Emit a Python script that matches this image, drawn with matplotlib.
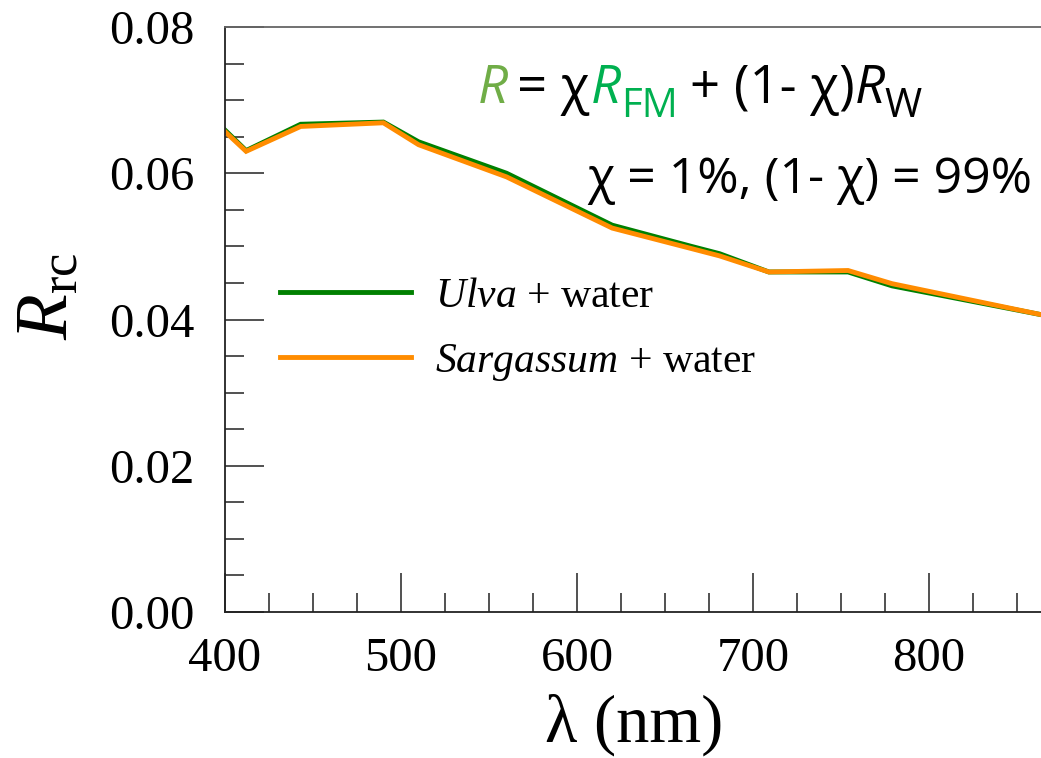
import numpy as np
import matplotlib
matplotlib.use("Agg")
import matplotlib.pyplot as plt
from matplotlib.ticker import MultipleLocator

# Spectra of floating macroalgae mixed with water (chi = 1%)
wavelength = [400, 412, 443, 490, 510, 560, 620, 665, 681, 709, 754, 779, 865]
ulva_water = [0.0659, 0.0631, 0.0667, 0.0670, 0.0643, 0.0600, 0.0529,
              0.0500, 0.0490, 0.0465, 0.0465, 0.0446, 0.0406]
sargassum_water = [0.0657, 0.0630, 0.0664, 0.0669, 0.0639, 0.0595, 0.0525,
                   0.0497, 0.0487, 0.0465, 0.0467, 0.0449, 0.0406]

series_labels = [r"$\mathit{Ulva}$ + water", r"$\mathit{Sargassum}$ + water"]
series_colors = ["#008000", "#ff8c00"]

plt.rcParams["font.family"] = ["Liberation Serif", "DejaVu Serif"]
plt.rcParams["mathtext.fontset"] = "custom"
plt.rcParams["mathtext.rm"] = "Liberation Serif"
plt.rcParams["mathtext.it"] = "Liberation Serif:italic"

W, H = 1041, 758
fig = plt.figure(figsize=(W / 100, H / 100), dpi=100)
x_min, x_max = 400, 865
ax = fig.add_axes([225 / W, (H - 612) / H, (x_max - x_min) * 1.76 / W, 585 / H])

for y, lab, col in zip([ulva_water, sargassum_water], series_labels, series_colors):
    ax.plot(wavelength, y, color=col, lw=3.5, label=lab, solid_joinstyle="miter")

ax.set_xlim(x_min, x_max)
ax.set_ylim(0, 0.08)
ax.xaxis.set_major_locator(MultipleLocator(100))
ax.xaxis.set_minor_locator(MultipleLocator(25))
ax.yaxis.set_major_locator(MultipleLocator(0.02))
ax.yaxis.set_minor_locator(MultipleLocator(0.005))
ax.yaxis.set_major_formatter(plt.FormatStrFormatter("%.2f"))

ax.tick_params(which="both", direction="in", width=1.1, colors="#222222")
ax.tick_params(which="major", length=28)
ax.tick_params(which="minor", length=14)
ax.tick_params(axis="x", which="major", pad=18, labelsize=35, labelcolor="black")
ax.tick_params(axis="y", which="major", pad=22, labelsize=35, labelcolor="black")
for s in ax.spines.values():
    s.set_linewidth(1.3)
    s.set_color("#222222")
ax.spines["top"].set_color("#666666")

ax.set_xlabel("λ (nm)", fontsize=48, labelpad=9)
ax.set_ylabel(r"$R_{\mathrm{rc}}$", fontsize=54)
ax.yaxis.set_label_coords(-0.173, 0.54)

ax.legend(loc="upper left", bbox_to_anchor=(0.067, 0.572), frameon=False,
          fontsize=30, handlelength=3.15, handletextpad=0.58,
          labelspacing=0.62, borderpad=0, borderaxespad=0)

# Mixing formula, built piece by piece so each part keeps its own colour
sans = ["Open Sans", "DejaVu Sans"]
base1 = (H - 103) / H
big, small = 38, 29
pieces = [
    ("R", "#70ad47", "italic", big, 0, 0),
    ("= χ", "black", "normal", big, 9, 0),
    ("R", "#00b050", "italic", big, 1, 0),
    ("FM", "#00b050", "normal", small, 0, -14),
    ("+ (1- χ)", "black", "normal", big, 12, 0),
    ("R", "black", "italic", big, 0, 0),
    ("W", "black", "normal", small, 0, -14),
]
prev = None
for txt, col, style, size, gap, drop in pieces:
    kw = dict(color=col, fontstyle=style, fontsize=size, family=sans,
              ha="left", va="baseline")
    if prev is None:
        prev = fig.text(478 / W, base1, txt, **kw)
    else:
        prev = ax.annotate(txt, xy=(1, base1), xycoords=(prev, "figure fraction"),
                           xytext=(gap * 0.72, drop * 0.72), textcoords="offset points",
                           annotation_clip=False, **kw)

fig.text(1032 / W, (H - 193) / H, "χ = 1%, (1- χ) = 99%", family=sans,
         fontsize=36, ha="right", va="baseline", color="black")

fig.savefig("out.png", dpi=100)
